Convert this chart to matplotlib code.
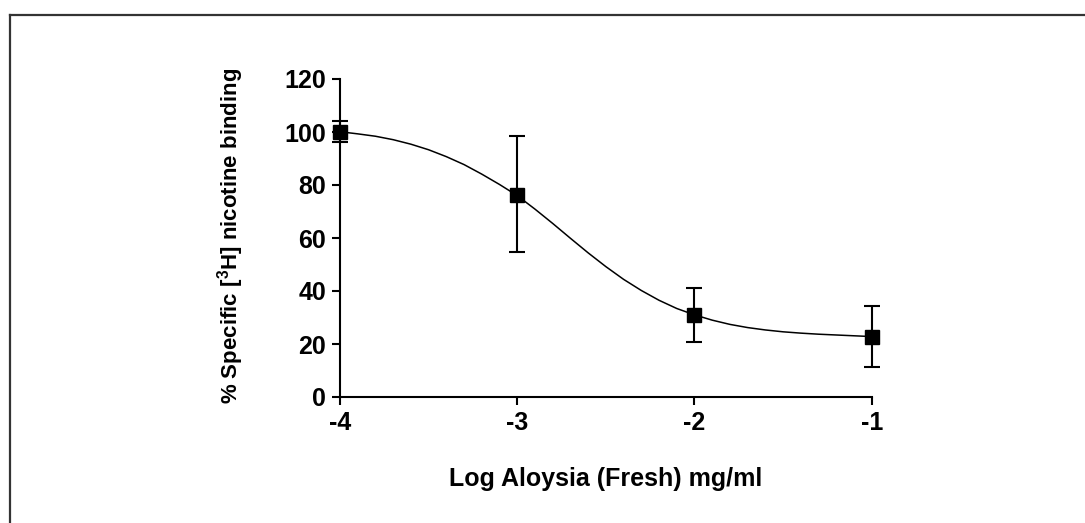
import numpy as np
import matplotlib
matplotlib.use("Agg")
import matplotlib.pyplot as plt
from matplotlib.lines import Line2D

plt.rcParams['font.family'] = ['Liberation Sans', 'DejaVu Sans']
plt.rcParams['font.weight'] = 'bold'
plt.rcParams['axes.unicode_minus'] = False
plt.rcParams['mathtext.fontset'] = 'custom'
plt.rcParams['mathtext.rm'] = 'Liberation Sans:bold'
plt.rcParams['mathtext.bf'] = 'Liberation Sans:bold'

# measured points (log conc, % binding, error)
log_conc = [-4, -3, -2, -1]
binding = [100.1, 76.2, 30.9, 22.8]
err_up = [4.1, 22.3, 10.1, 11.7]
err_down = [4.0, 21.6, 10.0, 11.4]

# fitted curve
curve_x = [-4.0, -3.9, -3.8, -3.7, -3.6, -3.5, -3.4, -3.3, -3.2, -3.1, -3.0,
           -2.9, -2.8, -2.7, -2.6, -2.5, -2.4, -2.3, -2.2, -2.1, -2.0,
           -1.9, -1.8, -1.7, -1.6, -1.5, -1.4, -1.3, -1.2, -1.1, -1.0]
curve_y = [100.1, 99.3, 98.4, 97.1, 95.4, 93.3, 90.7, 87.7, 84.1, 80.2, 76.0,
           70.9, 65.5, 59.9, 54.4, 49.2, 44.4, 40.2, 36.5, 33.4, 31.0,
           29.0, 27.4, 26.2, 25.3, 24.6, 24.1, 23.7, 23.4, 23.1, 22.8]

x_ticks = [-4, -3, -2, -1]
y_ticks = [0, 20, 40, 60, 80, 100, 120]

W, H = 1085, 523
fig = plt.figure(figsize=(W / 100, H / 100), dpi=100)
ax = fig.add_axes([340 / W, 1 - 397 / H, (871.7 - 340) / W, (397 - 79) / H])

ax.plot(curve_x, curve_y, color='black', lw=1.1, zorder=2)
ax.errorbar(log_conc, binding, yerr=[err_down, err_up], fmt='s', color='black',
            ms=10.5, elinewidth=1.5, capsize=5.5, capthick=1.5, zorder=3,
            clip_on=False)

ax.set_xlim(-4, -1)
ax.set_ylim(0, 120)
ax.set_xticks(x_ticks)
ax.set_yticks(y_ticks)
for s in ['top', 'right']:
    ax.spines[s].set_visible(False)
for s in ['left', 'bottom']:
    ax.spines[s].set_linewidth(1.5)
ax.tick_params(direction='out', length=6, width=1.5, labelsize=18, pad=4)
for lab in ax.get_xticklabels() + ax.get_yticklabels():
    lab.set_fontweight('bold')

fig.text(606 / W, 1 - 479 / H, 'Log Aloysia (Fresh) mg/ml', ha='center', va='center',
         fontsize=18, fontweight='bold')
fig.text(231 / W, 1 - 236 / H, r'% Specific [$^{\mathbf{3}}$H] nicotine binding',
         rotation=90, ha='center', va='center', fontsize=16, fontweight='bold')

# outer frame (left and top edges)
fig.add_artist(Line2D([9.5 / W, 9.5 / W], [0, 1 - 14.5 / H], color='#333333', lw=1.6))
fig.add_artist(Line2D([9.5 / W, 1], [1 - 14.5 / H, 1 - 14.5 / H], color='#333333', lw=1.6))

fig.savefig('out.png', dpi=100)
